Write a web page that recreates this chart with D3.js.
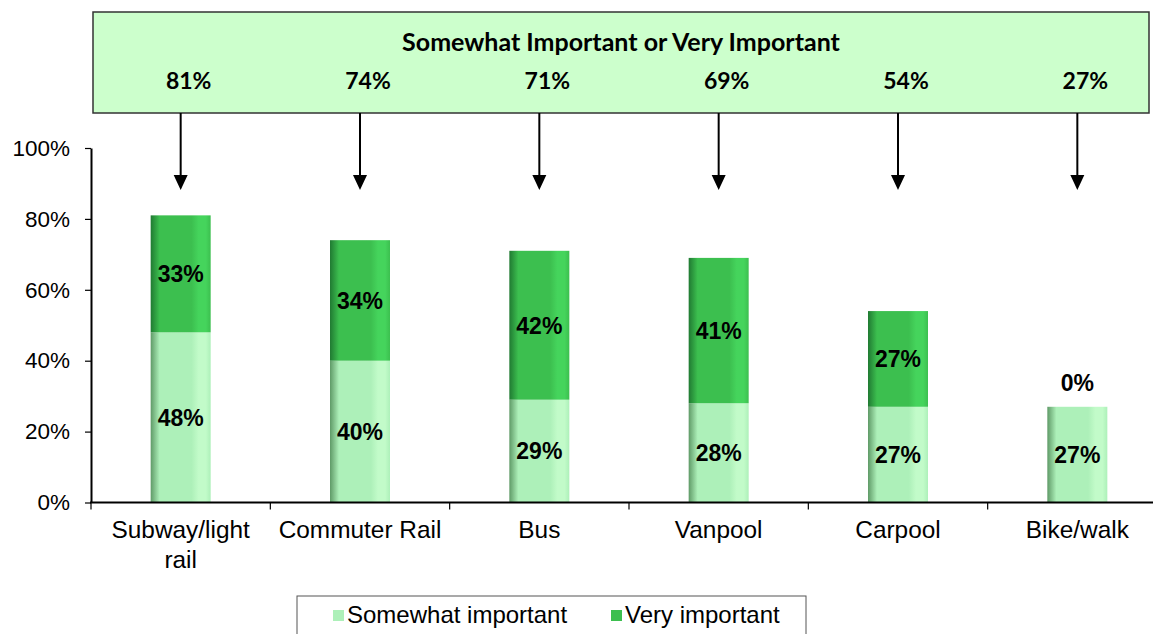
<!DOCTYPE html>
<html>
<head>
<meta charset="utf-8">
<script src="https://cdn.jsdelivr.net/npm/d3@7"></script>
<style>
  body { margin: 0; background: #fff; }
  svg { display: block; }
</style>
</head>
<body>
<div id="chart"></div>
<script>
// data
const categories = ["Subway/light rail", "Commuter Rail", "Bus", "Vanpool", "Carpool", "Bike/walk"];
const somewhat = [48, 40, 29, 28, 27, 27];
const very = [33, 34, 42, 41, 27, 0];
const totals = [81, 74, 71, 69, 54, 27];
const yTicks = [0, 20, 40, 60, 80, 100];
const seriesNames = ["Somewhat important", "Very important"];

const W = 1153, H = 634;
const plot = { left: 91, right: 1167, top: 148, bottom: 502.5 };
const font = "Liberation Sans, Arial, sans-serif";

const svg = d3.select("#chart").append("svg")
    .attr("width", W).attr("height", H);

const x = d3.scaleBand().domain(categories).range([plot.left, plot.right]).padding(0);
const y = d3.scaleLinear().domain([0, 100]).range([plot.bottom, plot.top]);
const barW = 60;

const color = { light: "#adf0b9", dark: "#3cbf4f" };

// horizontal shading on the bars
const defs = svg.append("defs");
function makeGrad(id, base, edge, hi) {
    const g = defs.append("linearGradient").attr("id", id)
        .attr("x1", "0%").attr("x2", "100%").attr("y1", "0%").attr("y2", "0%");
    g.append("stop").attr("offset", "0%").attr("stop-color", edge);
    g.append("stop").attr("offset", "15%").attr("stop-color", base);
    g.append("stop").attr("offset", "68%").attr("stop-color", base);
    g.append("stop").attr("offset", "80%").attr("stop-color", hi);
    g.append("stop").attr("offset", "92%").attr("stop-color", hi);
    g.append("stop").attr("offset", "100%").attr("stop-color", base);
}
makeGrad("gLight", color.light, "#5f9a67", "#c2fbc9");
makeGrad("gDark", color.dark, "#207a32", "#45d45c");

// stacked bars
const stackData = categories.map((c, i) => ({ cat: c, somewhat: somewhat[i], very: very[i] }));
const stack = d3.stack().keys(["somewhat", "very"]);
const layers = stack(stackData);
const fills = { somewhat: "url(#gLight)", very: "url(#gDark)" };

layers.forEach(layer => {
    svg.append("g").selectAll("rect")
        .data(layer)
        .join("rect")
        .attr("x", d => x(d.data.cat) + x.bandwidth() / 2 - barW / 2)
        .attr("width", barW)
        .attr("y", d => y(d[1]))
        .attr("height", d => y(d[0]) - y(d[1]))
        .attr("fill", fills[layer.key]);
});

// data labels
layers.forEach(layer => {
    svg.append("g").selectAll("text")
        .data(layer)
        .join("text")
        .attr("x", d => x(d.data.cat) + x.bandwidth() / 2)
        .attr("y", d => {
            const v = d[1] - d[0];
            return v === 0 ? y(d[1]) - 24 : (y(d[0]) + y(d[1])) / 2;
        })
        .attr("dy", "0.36em")
        .attr("text-anchor", "middle")
        .attr("font-family", font)
        .attr("font-weight", "bold")
        .attr("font-size", 23)
        .text(d => (d[1] - d[0]) + "%");
});

// y axis
const yAxis = svg.append("g")
    .attr("transform", `translate(${plot.left},0)`)
    .call(d3.axisLeft(y).tickValues(yTicks).tickFormat(d => d + "%").tickSize(6).tickSizeOuter(0));
yAxis.select(".domain").attr("stroke", "#000").attr("stroke-width", 2);
yAxis.selectAll(".tick line").attr("stroke", "#000").attr("stroke-width", 1.2);
yAxis.selectAll(".tick text")
    .attr("font-family", font)
    .attr("font-size", 22.5).attr("fill", "#000").attr("x", -21);

// x axis
svg.append("line")
    .attr("x1", plot.left - 1).attr("x2", W)
    .attr("y1", plot.bottom).attr("y2", plot.bottom)
    .attr("stroke", "#000").attr("stroke-width", 2);
svg.append("g").selectAll("line")
    .data(categories)
    .join("line")
    .attr("x1", d => x(d)).attr("x2", d => x(d))
    .attr("y1", plot.bottom).attr("y2", plot.bottom + 7)
    .attr("stroke", "#000").attr("stroke-width", 1.2);

const catLines = { "Subway/light rail": ["Subway/light", "rail"] };
svg.append("g").selectAll("text")
    .data(categories)
    .join("text")
    .attr("x", d => x(d) + x.bandwidth() / 2)
    .attr("y", 538)
    .attr("text-anchor", "middle")
    .attr("font-family", font)
    .attr("font-size", 24.4)
    .each(function(d) {
        const lines = catLines[d] || [d];
        d3.select(this).selectAll("tspan")
            .data(lines)
            .join("tspan")
            .attr("x", x(d) + x.bandwidth() / 2)
            .attr("dy", (l, i) => i === 0 ? 0 : 30)
            .text(l => l);
    });

// top callout box
const box = { x: 93, y: 12, w: 1056, h: 101 };
svg.append("rect")
    .attr("x", box.x).attr("y", box.y).attr("width", box.w).attr("height", box.h)
    .attr("fill", "#ccffcc").attr("stroke", "#333").attr("stroke-width", 1.5);
svg.append("text")
    .attr("x", 621).attr("y", 42).attr("dy", "0.35em")
    .attr("text-anchor", "middle")
    .attr("font-family", "Lato, Open Sans, sans-serif")
    .attr("font-weight", "bold").attr("font-size", 25)
    .text("Somewhat Important or Very Important");
svg.append("g").selectAll("text")
    .data(totals)
    .join("text")
    .attr("x", (d, i) => x(categories[i]) + x.bandwidth() / 2 + 8)
    .attr("y", 81).attr("dy", "0.35em")
    .attr("text-anchor", "middle")
    .attr("font-family", "Lato, Open Sans, sans-serif")
    .attr("font-weight", "bold").attr("font-size", 23)
    .text(d => d + "%");

// arrows
const arrows = svg.append("g").selectAll("g")
    .data(categories)
    .join("g")
    .attr("transform", d => `translate(${x(d) + x.bandwidth() / 2},0)`);
arrows.append("line")
    .attr("x1", 0).attr("x2", 0).attr("y1", box.y + box.h).attr("y2", 178)
    .attr("stroke", "#000").attr("stroke-width", 2);
arrows.append("path")
    .attr("d", "M-7,175 L7,175 L0,190 Z")
    .attr("fill", "#000");

// legend
const leg = svg.append("g");
leg.append("rect")
    .attr("x", 297).attr("y", 596).attr("width", 509).attr("height", 50)
    .attr("fill", "#fff").attr("stroke", "#555").attr("stroke-width", 1);
const legItems = [
    { name: seriesNames[0], fill: color.light, x: 333 },
    { name: seriesNames[1], fill: color.dark, x: 611 }
];
leg.selectAll("g.item")
    .data(legItems)
    .join("g")
    .attr("class", "item")
    .each(function(d) {
        const g = d3.select(this);
        g.append("rect").attr("x", d.x).attr("y", 610).attr("width", 11).attr("height", 11)
            .attr("fill", d.fill);
        g.append("text").attr("x", d.x + 14).attr("y", 623)
            .attr("font-family", font)
            .attr("font-size", 24)
            .text(d.name);
    });
</script>
</body>
</html>
